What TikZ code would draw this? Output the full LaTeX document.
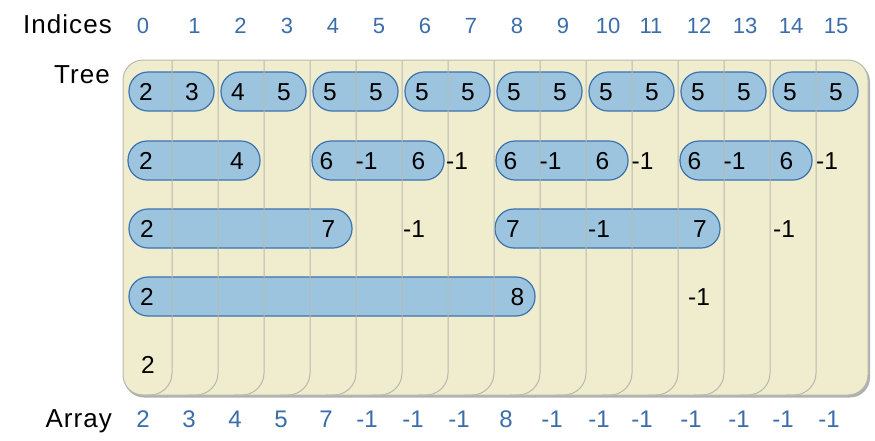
\documentclass[tikz,border=0pt]{standalone}
\usepackage{fontspec}
\setmainfont{Liberation Sans}
\newfontfamily\wordfont[LetterSpace=4]{Liberation Sans}
\definecolor{cardfill}{HTML}{EFEDCD}
\definecolor{cardline}{HTML}{B9B8B0}
\definecolor{pillfill}{HTML}{9DC4DE}
\definecolor{pilldraw}{HTML}{3B72B0}
\definecolor{idxblue}{HTML}{3A6DAA}
\definecolor{shadowgray}{HTML}{B0B0AC}
\tikzset{
  word/.style={font=\wordfont\fontsize{26}{30}\selectfont, anchor=base east, inner sep=0pt},
  idx/.style={font=\fontsize{22}{26}\selectfont, text=idxblue, anchor=base, inner sep=0pt},
  arr/.style={font=\fontsize{24}{28}\selectfont, text=idxblue, anchor=base, inner sep=0pt},
  num/.style={font=\fontsize{24.5}{28}\selectfont, inner sep=0pt},
  pill/.style={draw=pilldraw, fill=pillfill, line width=1.2pt, rounded corners=19pt,
    minimum height=39pt, inner sep=0pt},
  card/.style={draw=cardline, line width=1pt},
}
\begin{document}
\begin{tikzpicture}[x=1pt,y=-1pt]
\useasboundingbox (0,0) rectangle (875,440);
% card stack
\fill[shadowgray, rounded corners=20pt] (124,62) rectangle (870,397.5);
\draw[card, fill=cardfill, rounded corners=20pt] (123,60) rectangle (868,395);
% pills
\foreach \p in {0,...,7}
  \node[pill, minimum width=85pt] (pa\p) at ({126+92*\p+45.5}, 91.5) {};
\foreach \j in {0,...,3}
  \node[pill, minimum width=132pt] (pb\j) at ({126+184*\j+68}, 160.5) {};
\node[pill, minimum width=223pt] (pc0) at (240.5, 228.5) {};
\node[pill, minimum width=225pt] (pc1) at (607.5, 228.5) {};
\node[pill, minimum width=406pt] (pd0) at (332, 296.5) {};
% card separators
\foreach \k in {1,...,15}
  \draw[card, rounded corners=22pt] ({126+46*\k},60.5) -- ({126+46*\k},395) -- ({126+46*\k-30},395);
% headers
\node[word] (indices) at (112,33) {Indices};
\node[word] (tree) at (110,83) {Tree};
\node[word] (array) at (112,427) {Array};
\foreach \k/\x in {0/143,1/194.5,2/240.5,3/287,4/333,5/379,6/425,7/471,8/517,9/563,10/608,11/651,12/699,13/745,14/791,15/836}
  \node[idx] (i\k) at (\x,33) {\k};
\foreach \k/\x/\t in {0/143/2,1/189/3,2/235/4,3/281/5,4/326/7,5/367/-1,6/413/-1,7/459/-1,8/506/8,9/552/-1,10/599/-1,11/642/-1,12/691/-1,13/739/-1,14/783/-1,15/829/-1}
  \node[arr] (a\k) at (\x,427) {\t};
% tree values
\foreach \k/\t in {0/2,1/3,2/4,3/5,4/5,5/5,6/5,7/5,8/5,9/5,10/5,11/5,12/5,13/5,14/5,15/5}
  \node[num] (ta\k) at ({126+46*\k+20}, 92) {\t};
\foreach \k/\t/\d in {0/2/20,2/4/19,4/6/16.5,5/-1/10.5,6/6/16.5,7/-1/9,8/6/16.5,9/-1/10.5,10/6/16.5,11/-1/10.5,12/6/16.5,13/-1/10.5,14/6/16.5,15/-1/11}
  \node[num] (tb\k) at ({126+46*\k+\d}, 161) {\t};
\foreach \k/\t/\d in {0/2/21,4/7/18.5,6/-1/12,8/7/19,10/-1/13,12/7/22,14/-1/14}
  \node[num] (tc\k) at ({126+46*\k+\d}, 229) {\t};
\foreach \k/\t/\d in {0/2/21,8/8/23.5,12/-1/21}
  \node[num] (td\k) at ({126+46*\k+\d}, 297) {\t};
\node[num] (te0) at (148, 365) {2};
\end{tikzpicture}
\end{document}
